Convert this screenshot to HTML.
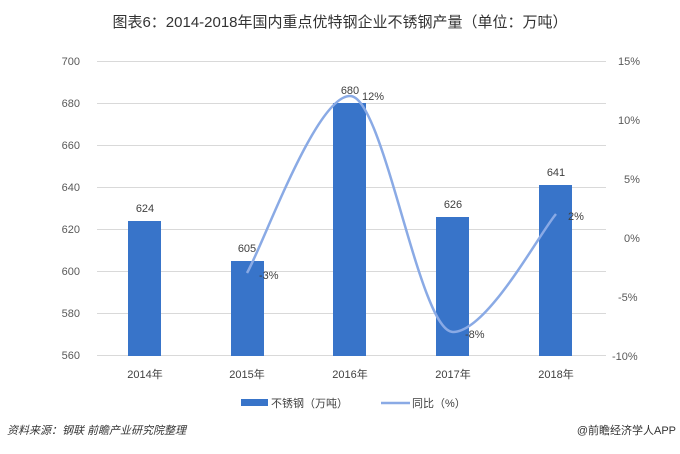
<!DOCTYPE html>
<html><head><meta charset="utf-8"><style>
body{margin:0;background:#fff;}
svg text{font-family:"Liberation Sans","Noto Sans CJK SC",sans-serif;}
</style></head><body>
<svg width="680" height="449" viewBox="0 0 680 449" xmlns="http://www.w3.org/2000/svg">
<rect width="680" height="449" fill="#fff"/>
<text x="340" y="27" font-size="15" fill="#333" text-anchor="middle">图表6：2014-2018年国内重点优特钢企业不锈钢产量（单位：万吨）</text>
<g stroke="#d9d9d9" stroke-width="1">
<line x1="97" x2="606" y1="61.5" y2="61.5"/>
<line x1="97" x2="606" y1="103.5" y2="103.5"/>
<line x1="97" x2="606" y1="145.5" y2="145.5"/>
<line x1="97" x2="606" y1="187.5" y2="187.5"/>
<line x1="97" x2="606" y1="229.5" y2="229.5"/>
<line x1="97" x2="606" y1="271.5" y2="271.5"/>
<line x1="97" x2="606" y1="313.5" y2="313.5"/>
<line x1="97" x2="606" y1="355.5" y2="355.5"/>
</g>
<g font-size="11" fill="#595959" text-anchor="end">
<text x="80" y="65">700</text><text x="80" y="107">680</text><text x="80" y="149">660</text><text x="80" y="191">640</text><text x="80" y="233">620</text><text x="80" y="275">600</text><text x="80" y="317">580</text><text x="80" y="359">560</text>
</g>
<g font-size="11" fill="#595959" text-anchor="start">
<text x="618" y="65">15%</text><text x="618" y="124">10%</text><text x="624" y="183">5%</text><text x="624" y="242">0%</text><text x="618" y="301">-5%</text><text x="612" y="360">-10%</text>
</g>
<g fill="#3874c9">
<rect x="128" y="221" width="33" height="135"/>
<rect x="231" y="261" width="33" height="95"/>
<rect x="333" y="103" width="33" height="253"/>
<rect x="436" y="217" width="33" height="139"/>
<rect x="539" y="185" width="33" height="171"/>
</g>
<g font-size="11" fill="#404040" text-anchor="middle">
<text x="145" y="212">624</text><text x="247" y="252">605</text><text x="350" y="94">680</text><text x="453" y="208">626</text><text x="556" y="176">641</text>
<text x="145" y="378">2014年</text><text x="247" y="378">2015年</text><text x="350" y="378">2016年</text><text x="453" y="378">2017年</text><text x="556" y="378">2018年</text>
</g>
<path d="M247,273 C264,243 316,96 350,96 C384,96 419,332 453,332 C487,332 539,234 556,214" fill="none" stroke="#8aaae5" stroke-width="2.5"/>
<g font-size="11" fill="#404040">
<text x="259" y="279">-3%</text><text x="362" y="100">12%</text><text x="465" y="338">-8%</text><text x="568" y="220">2%</text>
</g>
<rect x="241" y="399" width="27" height="7" fill="#3874c9"/>
<text x="271" y="407" font-size="11" fill="#404040">不锈钢（万吨）</text>
<line x1="381" x2="410" y1="403" y2="403" stroke="#8aaae5" stroke-width="2.5"/>
<text x="412" y="407" font-size="11" fill="#404040">同比（%）</text>
<text x="7" y="434" font-size="11" fill="#333" font-style="italic">资料来源：钢联  前瞻产业研究院整理</text>
<text x="676" y="434" font-size="11" fill="#333" text-anchor="end">@前瞻经济学人APP</text>
</svg>
</body></html>
